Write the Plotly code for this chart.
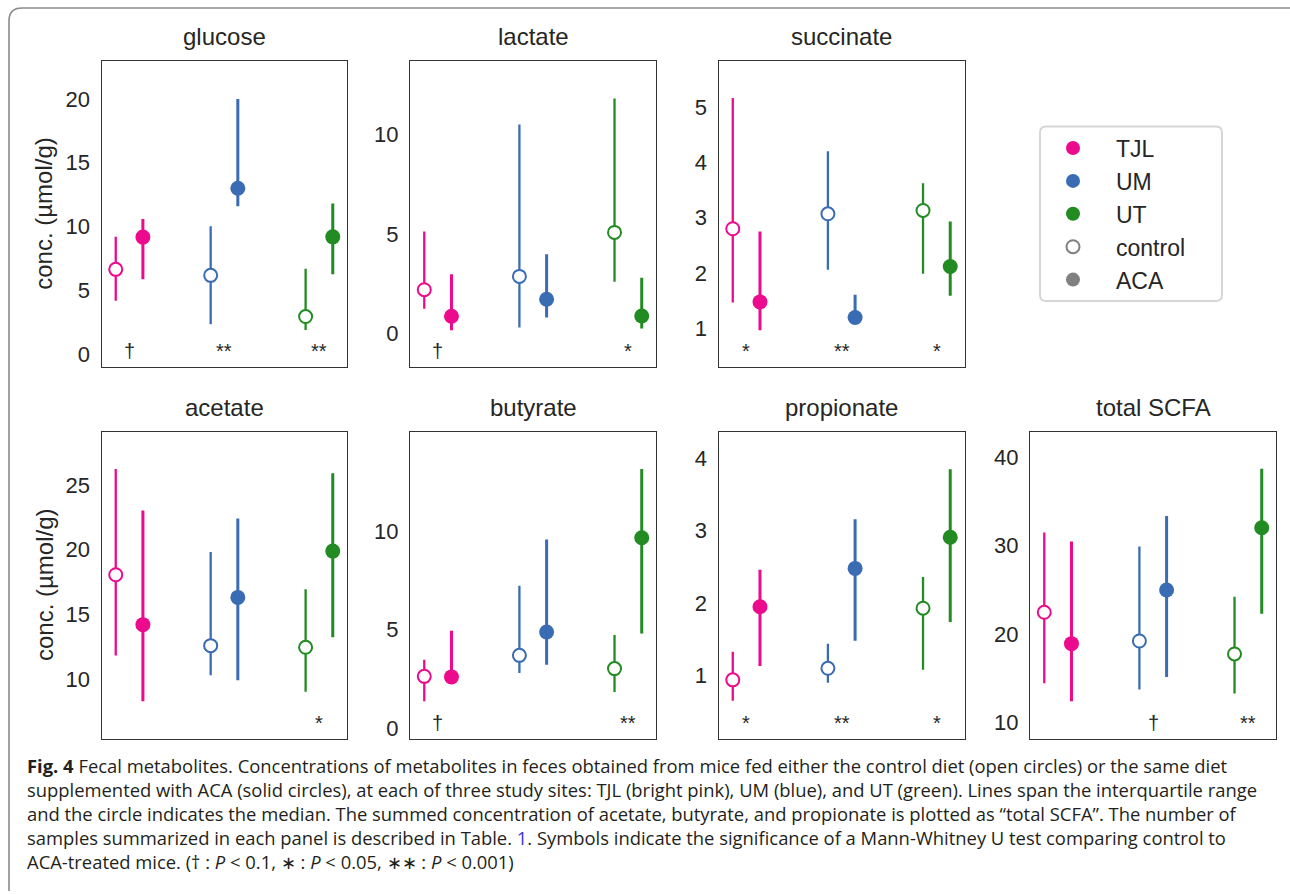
import plotly.graph_objects as go

W, H = 1290, 894

# ---------------- data ----------------
sites = ["TJL", "UM", "UT"]
site_colors = ["#ec0b8d", "#3a6cb3", "#228b22"]
treatments = ["control", "ACA"]
metabolites = ["glucose", "lactate", "succinate", "acetate", "butyrate", "propionate", "total SCFA"]

# (q1, median, q3) for TJL, UM, UT
glucose_control = [(4.17, 6.64, 9.19), (2.34, 6.17, 10.03), (1.88, 2.94, 6.69)]
glucose_aca = [(5.86, 9.17, 10.6), (11.6, 13.0, 20.0), (6.25, 9.19, 11.8)]
lactate_control = [(1.25, 2.20, 5.13), (0.30, 2.87, 10.5), (2.60, 5.08, 11.8)]
lactate_aca = [(0.17, 0.87, 2.98), (0.80, 1.72, 3.98), (0.25, 0.88, 2.80)]
succinate_control = [(1.47, 2.80, 5.16), (2.06, 3.07, 4.20), (1.99, 3.13, 3.62)]
succinate_aca = [(0.97, 1.48, 2.75), (1.17, 1.20, 1.61), (1.59, 2.12, 2.93)]
acetate_control = [(11.80, 18.05, 26.23), (10.28, 12.57, 19.80), (9.00, 12.44, 16.92)]
acetate_aca = [(8.28, 14.19, 23.02), (9.90, 16.30, 22.40), (13.22, 19.88, 25.90)]
butyrate_control = [(1.38, 2.64, 3.48), (2.81, 3.70, 7.22), (1.85, 3.03, 4.73)]
butyrate_aca = [(2.55, 2.61, 4.95), (3.23, 4.88, 9.56), (4.80, 9.65, 13.13)]
propionate_control = [(0.65, 0.94, 1.33), (0.90, 1.10, 1.44), (1.08, 1.93, 2.36)]
propionate_aca = [(1.13, 1.95, 2.46), (1.48, 2.48, 3.16), (1.74, 2.91, 3.85)]
total_scfa_control = [(14.41, 22.44, 31.48), (13.69, 19.19, 29.90), (13.24, 17.72, 24.21)]
total_scfa_aca = [(12.37, 18.89, 30.46), (15.12, 24.96, 33.33), (22.28, 32.01, 38.68)]

glucose_sig = ["†", "**", "**"]
lactate_sig = ["†", "", "*"]
succinate_sig = ["*", "**", "*"]
acetate_sig = ["", "", "*"]
butyrate_sig = ["†", "", "**"]
propionate_sig = ["*", "**", "*"]
total_scfa_sig = ["", "†", "**"]

glucose_ticks = [0, 5, 10, 15, 20]
lactate_ticks = [0, 5, 10]
succinate_ticks = [1, 2, 3, 4, 5]
acetate_ticks = [10, 15, 20, 25]
butyrate_ticks = [0, 5, 10]
propionate_ticks = [1, 2, 3, 4]
total_scfa_ticks = [10, 20, 30, 40]

y_label = "conc. (µmol/g)"

caption_lines = [
    "<b>Fig. 4</b> Fecal metabolites. Concentrations of metabolites in feces obtained from mice fed either the control diet (open circles) or the same diet",
    "supplemented with ACA (solid circles), at each of three study sites: TJL (bright pink), UM (blue), and UT (green). Lines span the interquartile range",
    "and the circle indicates the median. The summed concentration of acetate, butyrate, and propionate is plotted as \u201ctotal SCFA\u201d. The number of",
    "samples summarized in each panel is described in Table. <span style='color:#3535e0'>1</span>. Symbols indicate the significance of a Mann-Whitney U test comparing control to",
    "ACA-treated mice. (\u2020 : <i>P</i> &lt; 0.1, \u2217 : <i>P</i> &lt; 0.05, \u2217\u2217 : <i>P</i> &lt; 0.001)",
]

# ---------------- layout helpers ----------------
def px(x):
    return x / W


def py(y):
    return 1 - y / H


col_px = [(101.5, 347), (410, 656), (718.5, 964.5), (1030, 1276)]
row_px = [(61, 368), (433, 741)]
panel_pos = [(0, 0), (0, 1), (0, 2), (1, 0), (1, 1), (1, 2), (1, 3)]
y_ranges = [(-1.0, 23.0), (-1.67, 13.7), (0.31, 5.83), (5.39, 29.12),
            (-0.505, 15.02), (0.13, 4.37), (8.15, 42.9)]
X_RANGE = (-0.293, 2.293)
DODGE = 0.143

panel_data = [
    (glucose_control, glucose_aca, glucose_sig, glucose_ticks),
    (lactate_control, lactate_aca, lactate_sig, lactate_ticks),
    (succinate_control, succinate_aca, succinate_sig, succinate_ticks),
    (acetate_control, acetate_aca, acetate_sig, acetate_ticks),
    (butyrate_control, butyrate_aca, butyrate_sig, butyrate_ticks),
    (propionate_control, propionate_aca, propionate_sig, propionate_ticks),
    (total_scfa_control, total_scfa_aca, total_scfa_sig, total_scfa_ticks),
]

FONT = "Liberation Sans, Arial, sans-serif"
TEXT_COLOR = "#262626"
AXIS_COLOR = "#333333"

fig = go.Figure()
annotations = []
layout_axes = {}

for k, (name, (ctrl, aca, sig, ticks)) in enumerate(zip(metabolites, panel_data)):
    suffix = "" if k == 0 else str(k + 1)
    xref, yref = "x" + suffix, "y" + suffix
    r, c = panel_pos[k]
    x0, x1 = col_px[c]
    y0, y1 = row_px[r]

    layout_axes["xaxis" + suffix] = dict(
        domain=[px(x0), px(x1)], range=list(X_RANGE), anchor=yref,
        showticklabels=False, ticks="", showgrid=False, zeroline=False,
        showline=True, mirror=True, linecolor=AXIS_COLOR, linewidth=1.3,
        fixedrange=True,
    )
    layout_axes["yaxis" + suffix] = dict(
        domain=[py(y1), py(y0)], range=list(y_ranges[k]), anchor=xref,
        tickvals=ticks, ticks="", showgrid=False, zeroline=False,
        showline=True, mirror=True, linecolor=AXIS_COLOR, linewidth=1.3,
        tickfont=dict(family=FONT, size=22, color=TEXT_COLOR),
        ticklabelstandoff=6, fixedrange=True,
    )

    for i, site in enumerate(sites):
        col = site_colors[i]
        for t, data in enumerate((ctrl, aca)):
            q1, med, q3 = data[i]
            is_ctrl = t == 0
            fig.add_trace(go.Scatter(
                x=[i + (-DODGE if is_ctrl else DODGE)], y=[med],
                xaxis=xref, yaxis=yref, mode="markers", showlegend=False,
                name=f"{site} {treatments[t]}",
                error_y=dict(type="data", symmetric=False,
                             array=[q3 - med], arrayminus=[med - q1],
                             color=col, thickness=2.3 if is_ctrl else 3.0, width=0),
                marker=dict(symbol="circle", size=13 if is_ctrl else 15,
                            color="white" if is_ctrl else col,
                            line=dict(color=col, width=2 if is_ctrl else 0)),
                cliponaxis=False,
            ))
        if sig[i]:
            annotations.append(dict(
                x=i, y=0.052, xref=xref, yref=yref + " domain",
                text=sig[i], showarrow=False, xanchor="center", yanchor="middle",
                font=dict(family=FONT, size=20, color=TEXT_COLOR),
            ))

    # panel title
    annotations.append(dict(
        x=px((x0 + x1) / 2), y=py(y0 - 24), xref="paper", yref="paper",
        text=name, showarrow=False, xanchor="center", yanchor="middle",
        font=dict(family=FONT, size=24, color=TEXT_COLOR),
    ))
    if c == 0:
        annotations.append(dict(
            x=px(44), y=py((y0 + y1) / 2), xref="paper", yref="paper",
            text=y_label, textangle=-90, showarrow=False,
            xanchor="center", yanchor="middle",
            font=dict(family=FONT, size=24, color=TEXT_COLOR),
        ))

# legend entries
for i, site in enumerate(sites):
    fig.add_trace(go.Scatter(
        x=[None], y=[None], mode="markers", name=site,
        marker=dict(symbol="circle", size=14, color=site_colors[i]),
    ))
fig.add_trace(go.Scatter(
    x=[None], y=[None], mode="markers", name="control",
    marker=dict(symbol="circle", size=13, color="white",
                line=dict(color="#808080", width=2)),
))
fig.add_trace(go.Scatter(
    x=[None], y=[None], mode="markers", name="ACA",
    marker=dict(symbol="circle", size=14, color="#808080"),
))

# caption
for j, line in enumerate(caption_lines):
    annotations.append(dict(
        x=px(25), y=py(768 + 24 * j), xref="paper", yref="paper",
        text=line, showarrow=False, xanchor="left", yanchor="middle",
        font=dict(family="Open Sans, sans-serif", size=18.4, color="#231f20"),
    ))

shapes = [
    dict(type="path", xref="paper", yref="paper",
         path=f"M {px(9)},{py(894)} L {px(9)},{py(21)} Q {px(9)},{py(8)} {px(22)},{py(8)} L {px(1290)},{py(8)}",
         line=dict(color="#8a8a8a", width=1.6)),
    dict(type="path", xref="paper", yref="paper",
         path=(f"M {px(1046)},{py(127)} L {px(1216)},{py(127)} Q {px(1222)},{py(127)} {px(1222)},{py(133)} "
               f"L {px(1222)},{py(296)} Q {px(1222)},{py(302)} {px(1216)},{py(302)} "
               f"L {px(1046)},{py(302)} Q {px(1040)},{py(302)} {px(1040)},{py(296)} "
               f"L {px(1040)},{py(133)} Q {px(1040)},{py(127)} {px(1046)},{py(127)} Z"),
         line=dict(color="#d6d6d6", width=2), layer="below"),
]

fig.update_layout(
    width=W, height=H, margin=dict(l=0, r=0, t=0, b=0),
    paper_bgcolor="white", plot_bgcolor="white",
    showlegend=True,
    legend=dict(x=px(1030), y=py(127), xanchor="left", yanchor="top",
                font=dict(family=FONT, size=23, color=TEXT_COLOR),
                bgcolor="rgba(0,0,0,0)", borderwidth=0, itemwidth=76,
                tracegroupgap=0),
    annotations=annotations, shapes=shapes,
    **layout_axes,
)

fig.write_html("out.html", config={"displayModeBar": False},
               post_script="document.body.style.margin='0';document.body.style.overflow='hidden';")
